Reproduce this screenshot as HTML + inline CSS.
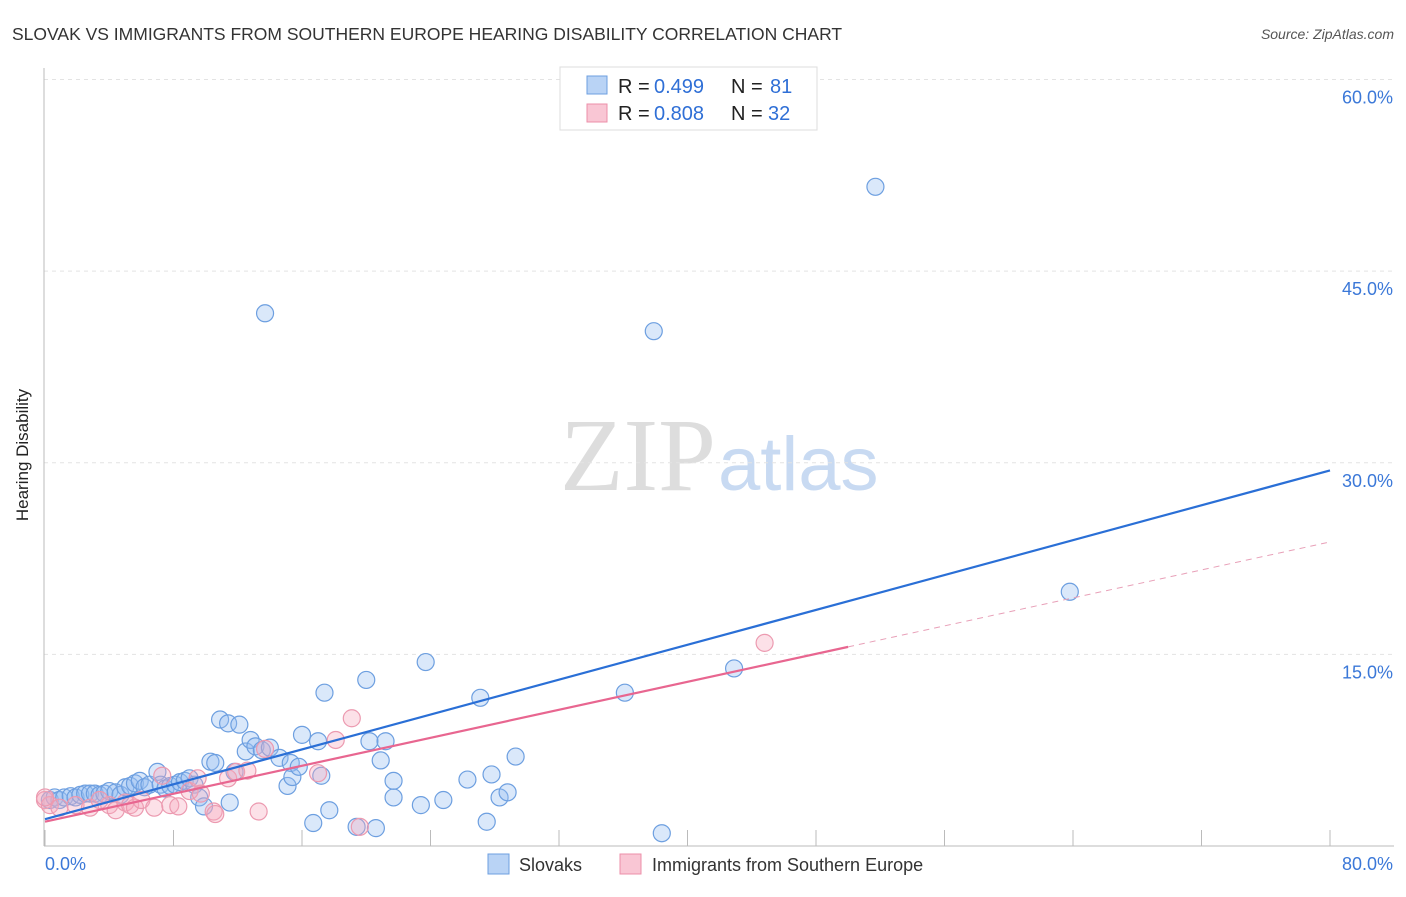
<!DOCTYPE html>
<html><head><meta charset="utf-8"><style>
body{margin:0;background:#fff;font-family:"Liberation Sans",sans-serif}
</style></head><body>
<svg width="1406" height="892" xmlns="http://www.w3.org/2000/svg" font-family="Liberation Sans, sans-serif">
<text x="12" y="40" font-size="17.5" fill="#333">SLOVAK VS IMMIGRANTS FROM SOUTHERN EUROPE HEARING DISABILITY CORRELATION CHART</text>
<text x="1394" y="39" font-size="14" fill="#555" font-style="italic" text-anchor="end">Source: ZipAtlas.com</text>
<text x="716" y="490" font-size="104" fill="#ddd" text-anchor="end" font-family="Liberation Serif, serif">ZIP</text>
<text x="718" y="490" font-size="76" fill="#c8daf2">atlas</text>
<g id="grid"></g>
<line x1="44" y1="68" x2="44" y2="846" stroke="#bbb"/>
<line x1="44" y1="846" x2="1394" y2="846" stroke="#bbb"/>
<text x="28" y="455" font-size="17" fill="#222" transform="rotate(-90 28 455)" text-anchor="middle">Hearing Disability</text>
<g id="pts"></g>
<g id="lines"></g>
<g>
<rect x="560" y="67" width="257" height="63" fill="#fff" stroke="#ddd"/>
<rect x="587" y="76" width="20" height="18" fill="#b9d3f5" stroke="#6d9fe0"/>
<rect x="587" y="104" width="20" height="18" fill="#f9c6d4" stroke="#ec8fa9"/>
<text x="618" y="93" font-size="20" fill="#222">R =</text>
<text x="654" y="93" font-size="20" fill="#2f6fd6">0.499</text>
<text x="731" y="93" font-size="20" fill="#222">N =</text>
<text x="770" y="93" font-size="20" fill="#2f6fd6">81</text>
<text x="618" y="120" font-size="20" fill="#222">R =</text>
<text x="654" y="120" font-size="20" fill="#2f6fd6">0.808</text>
<text x="731" y="120" font-size="20" fill="#222">N =</text>
<text x="768" y="120" font-size="20" fill="#2f6fd6">32</text>
</g>
<g>
<rect x="488" y="854" width="21" height="20" fill="#b9d3f5" stroke="#6d9fe0"/>
<text x="519" y="871" font-size="18" fill="#333">Slovaks</text>
<rect x="620" y="854" width="21" height="20" fill="#f9c6d4" stroke="#ec8fa9"/>
<text x="652" y="871" font-size="18" fill="#333">Immigrants from Southern Europe</text>
</g>
<text x="45" y="870" font-size="18" fill="#3b78d8">0.0%</text>
<text x="1393" y="870" font-size="18" fill="#3b78d8" text-anchor="end">80.0%</text>
</svg>
<script>
const yTicks=[15,30,45,60];
const yTickLabels=["15.0%","30.0%","45.0%","60.0%"];
const xTicks=[0,8,16,24,32,40,48,56,64,72,80];
const slovakX=[0.3,0.6,0.9,1.2,1.6,1.9,2.2,2.5,2.8,3.1,3.4,3.7,4.0,4.4,4.7,5.0,5.3,5.6,5.9,6.2,6.5,7.0,7.2,7.5,7.8,8.1,8.4,8.7,9.0,9.3,9.6,9.9,10.3,10.6,10.9,11.4,11.5,11.8,12.1,12.5,12.8,13.1,13.5,13.7,14.0,14.6,15.1,15.3,15.4,15.8,16.0,16.7,17.0,17.2,17.4,17.7,19.4,20.0,20.2,20.6,20.9,21.2,21.7,21.7,23.4,23.7,24.8,26.3,27.1,27.5,27.8,28.3,28.8,29.3,36.1,37.9,38.4,42.9,51.7,63.8];
const slovakY=[3.6,3.8,3.6,3.8,3.9,3.8,4.0,4.1,4.1,4.1,4.0,4.1,4.3,4.2,4.0,4.6,4.7,4.9,5.1,4.6,4.8,5.8,4.8,4.5,4.7,4.8,5.0,5.1,5.3,4.8,3.8,3.1,6.6,6.5,9.9,9.6,3.4,5.8,9.5,7.4,8.3,7.8,7.5,41.7,7.7,6.9,4.7,6.5,5.4,6.2,8.7,1.8,8.2,5.5,12.0,2.8,1.5,13.0,8.2,1.4,6.7,8.2,5.1,3.8,3.2,14.4,3.6,5.2,11.6,1.9,5.6,3.8,4.2,7.0,12.0,40.3,1.0,13.9,51.6,19.9];
const immX=[0,0.3,0.9,1.9,2.8,3.4,4.0,4.4,5.0,5.3,5.6,6.0,6.8,7.3,7.8,8.3,9.0,9.5,9.7,10.5,10.6,11.4,11.9,12.6,13.3,13.7,17.0,18.1,19.1,19.6,44.8,0];
const immY=[3.6,3.2,3.0,3.2,3.0,3.6,3.2,2.8,3.4,3.2,3.0,3.6,3.0,5.5,3.2,3.1,4.3,5.3,4.1,2.7,2.5,5.3,5.8,5.9,2.7,7.6,5.7,8.3,10.0,1.5,15.9,3.8];
const ns="http://www.w3.org/2000/svg";
const L=45,R=1330,B=846,T=79.5;
const sx=v=>L+v/80*(R-L), sy=v=>B-v/60*(B-T);
const grid=document.getElementById('grid');
function mk(t,a,p){const e=document.createElementNS(ns,t);for(const k in a)e.setAttribute(k,a[k]);p.appendChild(e);return e;}
yTicks.forEach((v,i)=>{
 const l=mk('line',{x1:44,x2:1394,y1:sy(v),y2:sy(v),stroke:'#e3e3e3','stroke-dasharray':'4,4'},grid);
 
 
 const t=mk('text',{x:1393,y:sy(v)+24,'font-size':18,fill:'#3b78d8','text-anchor':'end'},grid);
 t.textContent=yTickLabels[i];
 
 
});
xTicks.forEach(v=>{
 const l=mk('line',{x1:sx(v),x2:sx(v),y1:830,y2:846,stroke:'#bbb'},grid);
 
 
});
const pts=document.getElementById('pts');
slovakX.forEach((x,i)=>{
 const c=mk('circle',{cx:sx(x),cy:sy(slovakY[i]),r:8.5,fill:'rgba(150,190,240,0.35)',stroke:'#6d9fe0','stroke-width':1.2},pts);
 
 
});
immX.forEach((x,i)=>{
 const c=mk('circle',{cx:sx(x),cy:sy(immY[i]),r:8.5,fill:'rgba(245,170,190,0.35)',stroke:'#ec9ab0','stroke-width':1.2},pts);
 
 
});
const lines=document.getElementById('lines');
const bLine=[2.1,29.4], pLine=[1.9,23.8], pEnd=50;
let e=mk('line',{x1:sx(0),y1:sy(bLine[0]),x2:sx(80),y2:sy(bLine[1]),stroke:'#2a6fd6','stroke-width':2.2},lines);


const py=x=>pLine[0]+(pLine[1]-pLine[0])*x/80;
e=mk('line',{x1:sx(0),y1:sy(py(0)),x2:sx(pEnd),y2:sy(py(pEnd)),stroke:'#e86690','stroke-width':2.2},lines);


e=mk('line',{x1:sx(pEnd),y1:sy(py(pEnd)),x2:sx(80),y2:sy(py(80)),stroke:'#e8a0b8','stroke-width':1,'stroke-dasharray':'6,5'},lines);


</script>
</body></html>
